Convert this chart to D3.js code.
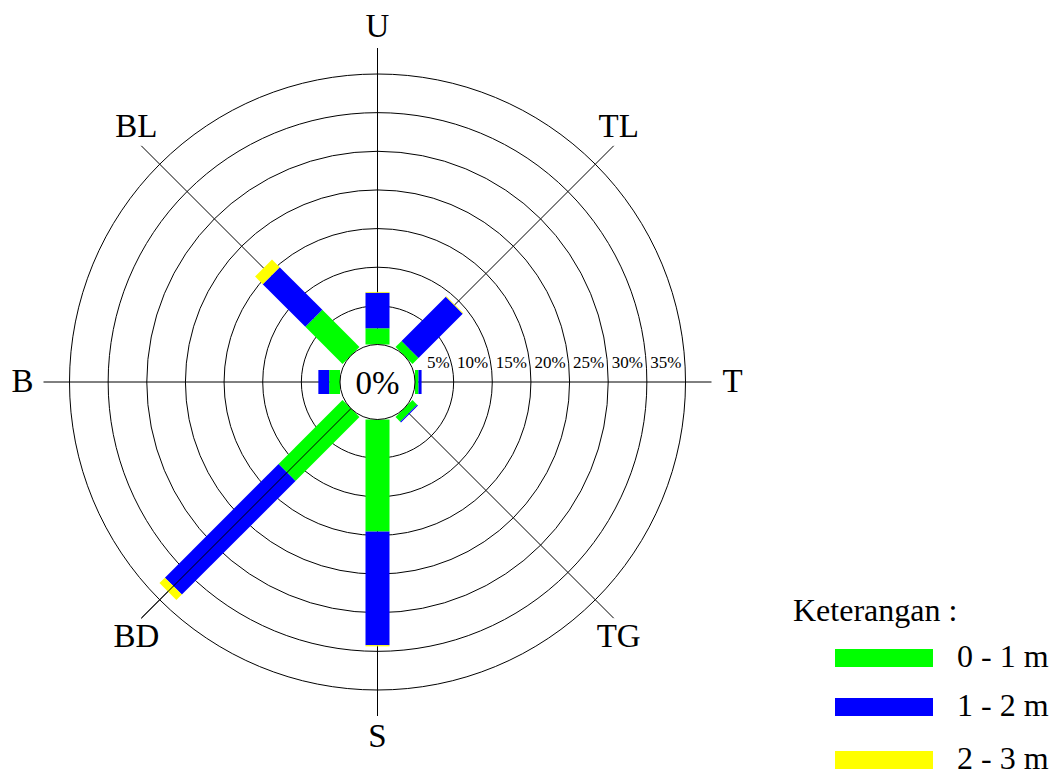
<!DOCTYPE html>
<html>
<head>
<meta charset="utf-8">
<script src="https://d3js.org/d3.v7.min.js"></script>
<style>
  html, body { margin: 0; padding: 0; background: #fff; }
  svg { display: block; }
  text { font-family: "Liberation Serif", "Times New Roman", serif; fill: #000; }
</style>
</head>
<body>
<svg id="chart" width="1057" height="775"></svg>
<script>
// ---- data ----
const directions = ["U", "TL", "T", "TG", "S", "BD", "B", "BL"];
const angles = [0, 45, 90, 135, 180, 225, 270, 315];
const classes = ["0 - 1 m", "1 - 2 m", "2 - 3 m"];
const wave01 = [2.1, 1.1, 0.45, 0.85, 14.5, 11.7, 1.4, 6.8];
const wave12 = [4.6, 8.1, 0.4, 0.15, 14.7, 20.8, 1.4, 7.8];
const wave23 = [0.1, 0.1, 0, 0, 0.15, 1.0, 0, 1.4];
const ringTicks = [5, 10, 15, 20, 25, 30, 35];
const ringLabels = ["5%", "10%", "15%", "20%", "25%", "30%", "35%"];
const calmLabel = "0%";
const legendTitle = "Keterangan :";
const colors = ["#00ff00", "#0000ff", "#ffff00"];

// ---- layout ----
const cx = 377.5, cy = 382;
const calmR = 37.5;
const svg = d3.select("#chart");
const r = d3.scaleLinear().domain([0, 35]).range([calmR, 308]);
const axisLen = 334;
const barW = 24;
const rad = d => d * Math.PI / 180;

const g = svg.append("g").attr("transform", `translate(${cx},${cy})`);

// rings
g.selectAll("circle.ring").data(ringTicks).join("circle")
  .attr("class", "ring").attr("r", d => r(d))
  .attr("fill", "none").attr("stroke", "#000").attr("stroke-width", 1);

// axis lines
g.selectAll("line.axis").data(angles).join("line")
  .attr("class", "axis")
  .attr("x1", 0).attr("y1", 0)
  .attr("x2", a => Math.sin(rad(a)) * axisLen)
  .attr("y2", a => -Math.cos(rad(a)) * axisLen)
  .attr("stroke", "#000").attr("stroke-width", 1);

// stacked bars
const series = [wave01, wave12, wave23];
const stack = [];
directions.forEach((dir, i) => {
  let cum = 0;
  series.forEach((s, k) => {
    const v = s[i];
    if (v > 0) stack.push({ dir, angle: angles[i], k, start: cum, end: cum + v });
    cum += v;
  });
});
g.selectAll("rect.bar").data(stack).join("rect")
  .attr("class", "bar")
  .attr("transform", d => `rotate(${d.angle})`)
  .attr("x", -barW / 2)
  .attr("y", d => -r(d.end))
  .attr("width", barW)
  .attr("height", d => r(d.end) - r(d.start))
  .attr("fill", d => colors[d.k]);

// SW axis line drawn over its bar
g.append("line")
  .attr("x1", 0).attr("y1", 0)
  .attr("x2", Math.sin(rad(225)) * axisLen)
  .attr("y2", -Math.cos(rad(225)) * axisLen)
  .attr("stroke", "#000").attr("stroke-width", 1);

// calm circle
g.append("circle").attr("r", calmR).attr("fill", "#fff")
  .attr("stroke", "#000").attr("stroke-width", 1);
g.append("text").attr("x", 0).attr("y", 0).attr("dy", "0.35em")
  .attr("text-anchor", "middle").attr("font-size", 33).text(calmLabel);

// ring labels
g.selectAll("text.tick").data(ringTicks).join("text")
  .attr("class", "tick")
  .attr("x", (d) => r(d) - 4)
  .attr("y", -14)
  .attr("text-anchor", "end")
  .attr("font-size", 17)
  .text((d, i) => ringLabels[i]);

// direction labels
function labelPos(a) {
  const diag = a % 90 !== 0;
  const rr = diag ? 351 : 355;
  const aa = diag ? a + (a === 45 || a === 225 ? -1.6 : 1.6) : a;
  return [Math.sin(rad(aa)) * rr, -Math.cos(rad(aa)) * rr - 2];
}
g.selectAll("text.dir").data(directions).join("text")
  .attr("class", "dir")
  .attr("x", (d, i) => labelPos(angles[i])[0])
  .attr("y", (d, i) => labelPos(angles[i])[1])
  .attr("dy", "0.35em")
  .attr("text-anchor", "middle")
  .attr("font-size", 33)
  .text(d => d);

// legend
const legRowsY = [649, 698, 751];
const leg = svg.append("g");
leg.append("text").attr("x", 793).attr("y", 621).attr("font-size", 32).text(legendTitle);
const rows = leg.selectAll("g.row").data(classes).join("g").attr("class", "row")
  .attr("transform", (d, i) => `translate(0,${legRowsY[i]})`);
rows.append("rect").attr("x", 835).attr("y", 0).attr("width", 98).attr("height", 18)
  .attr("fill", (d, i) => colors[i]);
rows.append("text").attr("x", 957).attr("y", 18).attr("font-size", 32).text(d => d);
</script>
</body>
</html>
